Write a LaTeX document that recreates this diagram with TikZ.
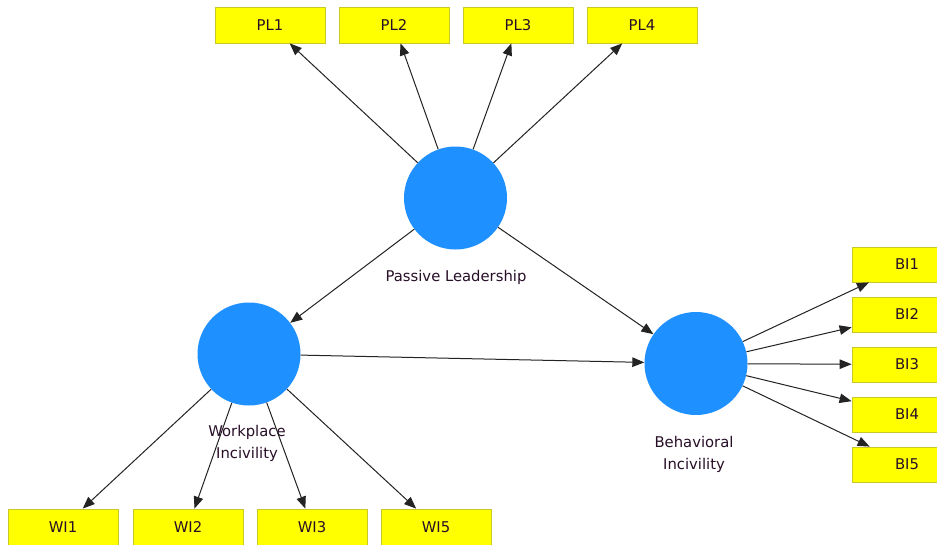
\documentclass[tikz,border=0pt]{standalone}
\usepackage{fontspec}
\setmainfont{DejaVu Sans}
\usetikzlibrary{arrows.meta}
\definecolor{boxfill}{RGB}{255,255,0}
\definecolor{boxline}{RGB}{200,200,40}
\definecolor{latent}{RGB}{30,144,255}
\definecolor{txt}{RGB}{40,15,40}
\definecolor{edge}{RGB}{35,35,35}
\tikzset{
  indicator/.style={draw=boxline, fill=boxfill, line width=0.8pt, minimum width=110pt, minimum height=36pt, inner sep=0pt, text=txt, font=\fontsize{14.8}{16}\selectfont},
  construct/.style={circle, fill=latent, draw=none, minimum size=103pt, inner sep=0pt},
  lbl/.style={text=txt, font=\fontsize{14.8}{22}\selectfont, align=center, inner sep=0pt, anchor=base},
  link/.style={draw=edge, line width=1pt, -{Triangle[length=12pt,width=9.5pt]}}
}
\begin{document}
\begin{tikzpicture}[x=1pt,y=-1pt]
\useasboundingbox (0,0) rectangle (937,544);
\clip (0,0) rectangle (937,544);
\fill[white] (0,0) rectangle (937,544);
% constructs
\node[construct] (PLc) at (455.5,198) {};
\node[construct] (WIc) at (249,354) {};
\node[construct] (BIc) at (696,363.5) {};
% labels (base anchor = baseline of last line)
\node[lbl] (PLl) at (456,281.5) {Passive Leadership};
\node[lbl] (WIl) at (247,458) {Workplace\\Incivility};
\node[lbl] (BIl) at (694,469) {Behavioral\\Incivility};
% PL indicators
\node[indicator] (PL1) at (270,25) {PL1};
\node[indicator] (PL2) at (394,25) {PL2};
\node[indicator] (PL3) at (518,25) {PL3};
\node[indicator] (PL4) at (642,25) {PL4};
% BI indicators
\node[indicator, minimum height=35pt] (BI1) at (907,264.5) {BI1};
\node[indicator, minimum height=35pt] (BI2) at (907,314.5) {BI2};
\node[indicator, minimum height=35pt] (BI3) at (907,364.5) {BI3};
\node[indicator, minimum height=35pt] (BI4) at (907,414.5) {BI4};
\node[indicator, minimum height=35pt] (BI5) at (907,464.5) {BI5};
% WI indicators
\node[indicator] (WI1) at (63,527) {WI1};
\node[indicator] (WI2) at (188,527) {WI2};
\node[indicator] (WI3) at (312,527) {WI3};
\node[indicator] (WI5) at (436,527) {WI5};
% connectors
\foreach \t in {PL1,PL2,PL3,PL4} \draw[link] (PLc) -- (\t);
\foreach \t in {BI1,BI2,BI3,BI4,BI5} \draw[link] (BIc) -- (\t);
\foreach \t in {WI1,WI2,WI3,WI5} \draw[link] (WIc) -- (\t);
\draw[link] (PLc) -- (WIc);
\draw[link] (PLc) -- (BIc);
\draw[link] (WIc) -- (BIc);
\end{tikzpicture}
\end{document}
